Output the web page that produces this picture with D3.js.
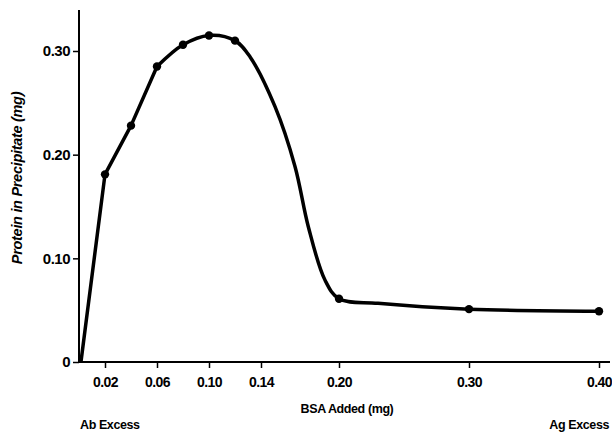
<!DOCTYPE html>
<html>
<head>
<meta charset="utf-8">
<script src="https://d3js.org/d3.v7.min.js"></script>
<style>
  body { margin: 0; background: #fff; }
  svg text { font-family: "Liberation Sans", Arial, sans-serif; font-weight: 700; fill: #000; }
</style>
</head>
<body>
<svg id="chart" width="612" height="432"></svg>
<script>
// measured points (BSA added, protein in precipitate)
var bsa = [0.02, 0.04, 0.06, 0.08, 0.10, 0.12, 0.20, 0.30, 0.40];
var protein = [0.181, 0.228, 0.285, 0.306, 0.315, 0.310, 0.061, 0.051, 0.049];
// trace of the drawn curve
var curveX = [0.0015, 0.02, 0.04, 0.06, 0.08, 0.10, 0.12, 0.1315, 0.1508, 0.1662, 0.1764, 0.1892, 0.20, 0.23, 0.30, 0.40];
var curveY = [0, 0.181, 0.228, 0.285, 0.306, 0.315, 0.310, 0.2945, 0.2463, 0.1884, 0.1305, 0.0791, 0.061, 0.0566, 0.051, 0.049];
var xTicks = [0.02, 0.06, 0.10, 0.14, 0.20, 0.30, 0.40];
var xTickLabels = ["0.02", "0.06", "0.10", "0.14", "0.20", "0.30", "0.40"];
var yTicks = [0, 0.10, 0.20, 0.30];
var yTickLabels = ["0", "0.10", "0.20", "0.30"];

var svg = d3.select("#chart");
var x = d3.scaleLinear().domain([0, 0.4]).range([79, 599]);
var y = d3.scaleLinear().domain([0, 0.3]).range([362, 51]);

// x axis
var xAxis = d3.axisBottom(x)
    .tickValues(xTicks)
    .tickFormat(function (d, i) { return xTickLabels[i]; })
    .tickSize(6)
    .tickSizeOuter(0);
var gx = svg.append("g").attr("transform", "translate(0," + y(0) + ")").call(xAxis);
gx.select(".domain").attr("d", "M" + x(0) + ",0H610").attr("stroke-width", 2);
gx.selectAll(".tick line").attr("stroke-width", 1.5);
gx.selectAll(".tick text").attr("dy", 0).attr("y", 25).style("font-size", "14px").style("letter-spacing", "-0.5px");

// y axis
var yAxis = d3.axisLeft(y)
    .tickValues(yTicks)
    .tickFormat(function (d, i) { return yTickLabels[i]; })
    .tickSize(6)
    .tickSizeOuter(0);
var gy = svg.append("g").attr("transform", "translate(" + x(0) + ",0)").call(yAxis);
gy.select(".domain").attr("d", "M0," + y(0) + "V10").attr("stroke-width", 2);
gy.selectAll(".tick line").attr("stroke-width", 1.5);
gy.selectAll(".tick text").attr("x", -9).style("font-size", "15px").style("letter-spacing", "-0.5px");

// curve: straight rise up to 0.06, smooth afterwards
var trace = curveX.map(function (d, i) { return [d, curveY[i]]; });
var straight = d3.line()
    .x(function (d) { return x(d[0]); })
    .y(function (d) { return y(d[1]); });
var smooth = d3.line()
    .x(function (d) { return x(d[0]); })
    .y(function (d) { return y(d[1]); })
    .curve(d3.curveCatmullRom.alpha(0.5));
var path = straight(trace.slice(0, 4)) + smooth(trace.slice(3)).replace(/^M[^CL]*/, "");
svg.append("path")
    .attr("d", path)
    .attr("fill", "none")
    .attr("stroke", "#000")
    .attr("stroke-width", 3.5)
    .attr("stroke-linejoin", "round");

// points
svg.selectAll("circle.pt")
    .data(bsa)
    .enter().append("circle")
    .attr("class", "pt")
    .attr("cx", function (d) { return x(d); })
    .attr("cy", function (d, i) { return y(protein[i]); })
    .attr("r", 4.2)
    .attr("fill", "#000");

// labels
svg.append("text")
    .attr("transform", "translate(22,178) rotate(-90)")
    .attr("text-anchor", "middle")
    .style("font-size", "14.5px")
    .style("font-style", "italic")
    .style("letter-spacing", "-0.3px")
    .text("Protein in Precipitate (mg)");

svg.append("text")
    .attr("x", 347).attr("y", 413)
    .attr("text-anchor", "middle")
    .style("font-size", "12.5px")
    .style("letter-spacing", "-0.4px")
    .text("BSA Added (mg)");

svg.append("text")
    .attr("x", 80).attr("y", 429)
    .style("font-size", "12.5px")
    .style("letter-spacing", "-0.4px")
    .text("Ab Excess");

svg.append("text")
    .attr("x", 609).attr("y", 429)
    .attr("text-anchor", "end")
    .style("font-size", "12.5px")
    .style("letter-spacing", "-0.4px")
    .text("Ag Excess");
</script>
</body>
</html>
